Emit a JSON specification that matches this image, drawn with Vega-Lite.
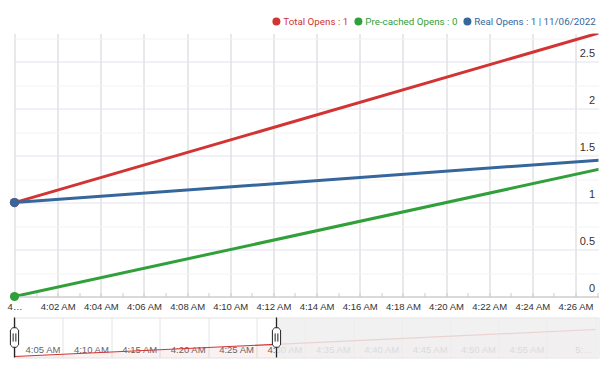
{
  "$schema": "https://vega.github.io/schema/vega-lite/v6.json",
  "padding": {"left": 6.5, "top": 16.5, "right": 14, "bottom": 5},
  "config": {
    "font": "Liberation Sans",
    "view": {"stroke": null},
    "legend": {"layout": {"top": {"anchor": "end"}}}
  },
  "datasets": {
    "opens": [
      {"series": "Total Opens", "time": "2022-11-06T04:00:00Z", "count": 1},
      {"series": "Total Opens", "time": "2022-11-06T05:00:00Z", "count": 5},
      {"series": "Pre-cached Opens", "time": "2022-11-06T04:00:00Z", "count": 0},
      {"series": "Pre-cached Opens", "time": "2022-11-06T05:00:00Z", "count": 3},
      {"series": "Real Opens", "time": "2022-11-06T04:00:00Z", "count": 1},
      {"series": "Real Opens", "time": "2022-11-06T05:00:00Z", "count": 2}
    ],
    "selection": [
      {"edge": "start", "time": "2022-11-06T04:00:00Z"},
      {"edge": "end", "time": "2022-11-06T04:27:04Z"}
    ]
  },
  "spacing": 4,
  "vconcat": [
    {
      "width": 584,
      "height": 263,
      "data": {"name": "opens"},
      "encoding": {
        "x": {
          "field": "time",
          "type": "temporal",
          "title": null,
          "scale": {
            "type": "utc",
            "domain": [
              {"year": 2022, "month": 11, "date": 6, "hours": 4, "minutes": 0, "seconds": 0, "utc": true},
              {"year": 2022, "month": 11, "date": 6, "hours": 4, "minutes": 27, "seconds": 4, "utc": true}
            ]
          },
          "axis": {
            "tickCount": 28,
            "labelExpr": "utcminutes(datum.value) % 2 != 0 ? '' : (utchours(datum.value) == 4 && utcminutes(datum.value) == 0 ? '4…' : utcFormat(datum.value, '%-I:%M %p'))",
            "labelFlush": false,
            "labelOverlap": false,
            "labelFontSize": 9.5,
            "labelColor": "#333333",
            "labelPadding": 9,
            "tickSize": -4,
            "tickColor": "#cccccc",
            "domainColor": "#c4c4c4",
            "grid": true,
            "gridColor": "#d2d2d2",
            "gridOpacity": {"condition": {"test": "utcminutes(datum.value) % 2 == 0", "value": 1}, "value": 0}
          }
        },
        "y": {
          "field": "count",
          "type": "quantitative",
          "title": null,
          "scale": {"domain": [0, 2.8], "nice": false},
          "axis": {
            "orient": "right",
            "values": [0, 0.25, 0.5, 0.75, 1, 1.25, 1.5, 1.75, 2, 2.25, 2.5, 2.75],
            "labelExpr": "datum.value % 0.5 == 0 ? '' + datum.value : ''",
            "domain": false,
            "ticks": false,
            "labelPadding": -4,
            "labelAlign": "right",
            "labelBaseline": "bottom",
            "labelOffset": -3,
            "labelFontSize": 11,
            "labelColor": "#333333",
            "labelOverlap": false,
            "gridColor": {"condition": {"test": "datum.value % 0.5 == 0", "value": "#e1e1ed"}, "value": "#f3f3f3"}
          }
        },
        "color": {
          "field": "series",
          "type": "nominal",
          "scale": {
            "domain": ["Total Opens", "Pre-cached Opens", "Real Opens"],
            "range": ["#d23434", "#31a03a", "#35669c"]
          },
          "legend": {
            "orient": "top",
            "direction": "horizontal",
            "title": null,
            "symbolType": "circle",
            "symbolSize": 64,
            "symbolStrokeWidth": 0,
            "symbolOpacity": 1,
            "labelFont": "Roboto",
            "labelFontSize": 9.8,
            "labelLimit": 400,
            "labelOffset": 2,
            "columnPadding": 5,
            "offset": -3,
            "padding": 0,
            "labelExpr": "datum.label == 'Total Opens' ? 'Total Opens : 1' : (datum.label == 'Pre-cached Opens' ? 'Pre-cached Opens : 0' : 'Real Opens : 1  | 11/06/2022')",
            "encode": {
              "labels": {"update": {"fill": {"scale": "color", "field": "value"}}}
            }
          }
        }
      },
      "layer": [
        {"mark": {"type": "line", "strokeWidth": 3, "clip": true}},
        {
          "transform": [{"filter": "utchours(datum.time) == 4"}],
          "mark": {"type": "circle", "size": 85, "opacity": 1}
        }
      ]
    },
    {
      "width": 584,
      "height": 40,
      "view": {"stroke": "#e2e2e2"},
      "layer": [
        {
          "data": {"name": "opens"},
          "transform": [{"filter": "datum.series == 'Total Opens'"}],
          "mark": {"type": "area", "color": "#d23434", "opacity": 0.07, "clip": true},
          "encoding": {
            "x": {
              "field": "time",
              "type": "temporal",
              "title": null,
              "scale": {
                "type": "utc",
                "domain": [
                  {"year": 2022, "month": 11, "date": 6, "hours": 4, "minutes": 0, "seconds": 0, "utc": true},
                  {"year": 2022, "month": 11, "date": 6, "hours": 5, "minutes": 0, "seconds": 20, "utc": true}
                ]
              },
              "axis": {
                "tickCount": 12,
                "labelExpr": "(utchours(datum.value) == 4 && utcminutes(datum.value) == 0) ? '' : (utchours(datum.value) == 5 ? '5:…' : utcFormat(datum.value, '%-I:%M %p'))",
                "labelAlign": "right",
                "labelOffset": -3,
                "labelBaseline": "bottom",
                "labelPadding": -3,
                "ticks": false,
                "domain": false,
                "labelColor": "#666666",
                "labelFontSize": 9.5,
                "labelFlush": false,
                "labelOverlap": false,
                "grid": true,
                "gridColor": "#e4e4e4"
              }
            },
            "y": {
              "field": "count",
              "type": "quantitative",
              "scale": {"domain": [0.85, 6.78], "nice": false, "zero": false},
              "axis": null
            }
          }
        },
        {
          "data": {"name": "opens"},
          "transform": [{"filter": "datum.series == 'Total Opens'"}],
          "mark": {"type": "line", "color": "#d23434", "strokeWidth": 1.2, "clip": true},
          "encoding": {
            "x": {"field": "time", "type": "temporal"},
            "y": {"field": "count", "type": "quantitative"}
          }
        },
        {
          "data": {"name": "selection"},
          "transform": [{"filter": "datum.edge == 'end'"}],
          "mark": {"type": "rect", "fill": "#eeeeee", "fillOpacity": 0.85},
          "encoding": {
            "x": {"field": "time", "type": "temporal"},
            "x2": {"value": "width"}
          }
        },
        {
          "data": {"name": "selection"},
          "mark": {"type": "rule", "color": "#222222", "strokeWidth": 1.3},
          "encoding": {"x": {"field": "time", "type": "temporal"}}
        },
        {
          "data": {"name": "selection"},
          "mark": {
            "type": "point",
            "shape": "M-0.18,-1 L0.18,-1 L0.42,-0.76 L0.42,0.76 L0.18,1 L-0.18,1 L-0.42,0.76 L-0.42,-0.76 Z M-0.14,-0.42 L-0.14,0.42 M0.14,-0.42 L0.14,0.42",
            "size": 380,
            "fill": "#ffffff",
            "fillOpacity": 1,
            "stroke": "#222222",
            "strokeWidth": 1,
            "opacity": 1
          },
          "encoding": {"x": {"field": "time", "type": "temporal"}}
        }
      ]
    }
  ]
}
